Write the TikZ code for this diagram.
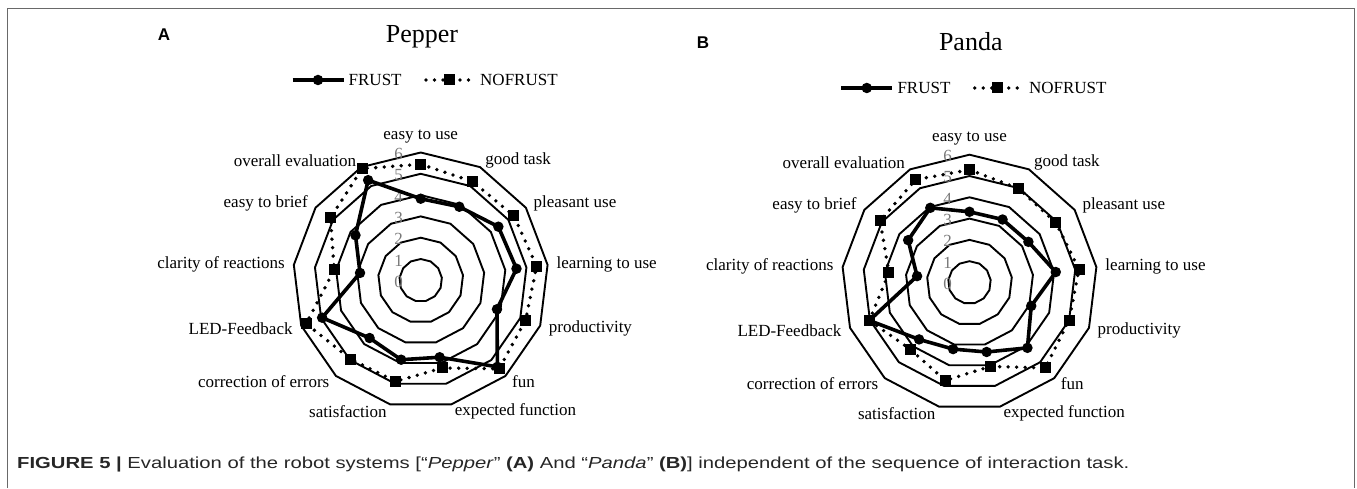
\documentclass[tikz,border=0pt]{standalone}
\usepackage{fontspec}
\setmainfont{Liberation Serif}
\setsansfont{Liberation Sans}
\newfontfamily\capfont[FakeStretch=1.265]{Liberation Sans}
\usetikzlibrary{positioning}

\definecolor{tickgray}{RGB}{120,120,120}
\definecolor{framegray}{RGB}{105,105,105}
\newcommand{\unitr}{21.3}

\tikzset{
  gridline/.style={line width=1.9pt, line join=miter},
  frustline/.style={line width=3.6pt, line join=round},
  nofrustline/.style={line width=3.8pt, line cap=round, dash pattern=on 0pt off 8.5pt},
  frustmark/.style={circle, fill, inner sep=0pt, minimum size=10.5pt},
  nofrustmark/.style={rectangle, fill, inner sep=0pt, minimum size=11pt},
  axislabel/.style={font=\fontsize{17}{19}\selectfont, inner sep=1.5pt},
  ticklabel/.style={font=\fontsize{17}{19}\selectfont, text=tickgray, inner sep=0pt},
  charttitle/.style={font=\fontsize{26}{30}\selectfont, anchor=base, inner sep=0pt},
  legendtext/.style={font=\fontsize{17}{19}\selectfont, anchor=west, inner sep=0pt},
  panel/.style={font=\sffamily\bfseries\fontsize{17}{20}\selectfont, inner sep=0pt},
}

\begin{document}
\begin{tikzpicture}[x=1pt, y=1pt]
   \useasboundingbox (0,0) rectangle (1357,488);
   \draw[framegray, line width=1.5pt] (7.5,0) -- (7.5,479.5) -- (1354.5,479.5) -- (1354.5,0);

   % rings, ticks, axis names, title and legend of both charts
   \foreach \c/\cx/\cy/\name/\panel/\px/\ty/\ly in {pep/420.7/207.7/Pepper/A/-256.7/237.3/200.3,
                                                    pan/969.5/205.5/Panda/B/-266.5/231.5/194.5} {
      \begin{scope}[shift={(\cx,\cy)}]
         \foreach \k in {1,...,6}
            \draw[gridline] (90:\k*\unitr) \foreach \j in {1,...,12} {-- ({90-\j*360/13}:\k*\unitr)} -- cycle;
         \foreach \k in {0,...,6}
            \node[ticklabel] (\c-t\k) at (-22,\k*\unitr-1.4) {\k};
         \foreach \j/\txt/\anc in {0/easy to use/south, 1/good task/west, 2/pleasant use/west,
                                   3/learning to use/west, 4/productivity/west, 5/fun/west,
                                   6/expected function/west, 7/satisfaction/east,
                                   8/correction of errors/east, 9/LED-Feedback/east,
                                   10/clarity of reactions/east, 11/easy to brief/east,
                                   12/overall evaluation/east}
            \node[axislabel, anchor=\anc] (\c-a\j) at ({90-\j*360/13}:6.35*\unitr) {\txt};

         \node[panel] (\c-panel) at (\px,\ty+8) {\panel};
         \node[charttitle] (\c-title) at (1.3,\ty) {\name};

         \node[frustmark] (\c-legf) at (-102.7,\ly) {};
         \coordinate[left=25.5pt of \c-legf.center] (\c-legf-w);
         \coordinate[right=25.5pt of \c-legf.center] (\c-legf-e);
         \draw[frustline] (\c-legf-w) -- (\c-legf-e);
         \node[legendtext, right=5pt of \c-legf-e] (\c-legf-t) {FRUST};

         \node[nofrustmark] (\c-legn) at (28.3,\ly) {};
         \coordinate[left=23pt of \c-legn.center] (\c-legn-w);
         \coordinate[right=22pt of \c-legn.center] (\c-legn-e);
         \draw[nofrustline] (\c-legn-w) -- (\c-legn-e);
         \node[legendtext, right=9pt of \c-legn-e] (\c-legn-t) {NOFRUST};
      \end{scope}
   }

   % Pepper
   \begin{scope}[shift={(420.7,207.7)}]
      \foreach \v [count=\i from 0] in {5.45,5.24,5.32,5.48,5.27,5.55,4.24,4.89,4.95,5.75,4.09,5.15,5.92}
         \coordinate (pep-n\i) at ({90-\i*360/13}:\v*\unitr);
      \foreach \v [count=\i from 0] in {3.83,3.90,4.43,4.53,3.83,5.43,3.72,3.84,3.62,4.95,2.87,3.72,5.31}
         \coordinate (pep-f\i) at ({90-\i*360/13}:\v*\unitr);
      \draw[nofrustline] (pep-n0) \foreach \i in {1,...,12} {-- (pep-n\i)} -- cycle;
      \draw[frustline] (pep-f0) \foreach \i in {1,...,12} {-- (pep-f\i)} -- cycle;
      \foreach \i in {0,...,12} {
         \node[nofrustmark] (pep-nm\i) at (pep-n\i) {};
         \node[frustmark] (pep-fm\i) at (pep-f\i) {};
      }
   \end{scope}

   % Panda
   \begin{scope}[shift={(969.5,205.5)}]
      \foreach \v [count=\i from 0] in {5.29,4.98,4.93,5.18,5.00,5.36,4.06,4.74,4.19,5.03,3.81,5.10,5.45}
         \coordinate (pan-n\i) at ({90-\i*360/13}:\v*\unitr);
      \foreach \v [count=\i from 0] in {3.32,3.34,3.36,4.08,3.10,4.10,3.36,3.22,3.57,5.03,2.48,3.50,3.96}
         \coordinate (pan-f\i) at ({90-\i*360/13}:\v*\unitr);
      \draw[nofrustline] (pan-n0) \foreach \i in {1,...,12} {-- (pan-n\i)} -- cycle;
      \draw[frustline] (pan-f0) \foreach \i in {1,...,12} {-- (pan-f\i)} -- cycle;
      \foreach \i in {0,...,12} {
         \node[nofrustmark] (pan-nm\i) at (pan-n\i) {};
         \node[frustmark] (pan-fm\i) at (pan-f\i) {};
      }
   \end{scope}

   \node[anchor=base west, inner sep=0pt, text=black!85, font=\capfont\fontsize{16}{19}\selectfont] (caption) at (17,20)
      {\textbf{FIGURE 5 |} Evaluation of the robot systems [“\textit{Pepper}” \textbf{(A)} And “\textit{Panda}” \textbf{(B)}] independent of the sequence of interaction task.};
\end{tikzpicture}
\end{document}
